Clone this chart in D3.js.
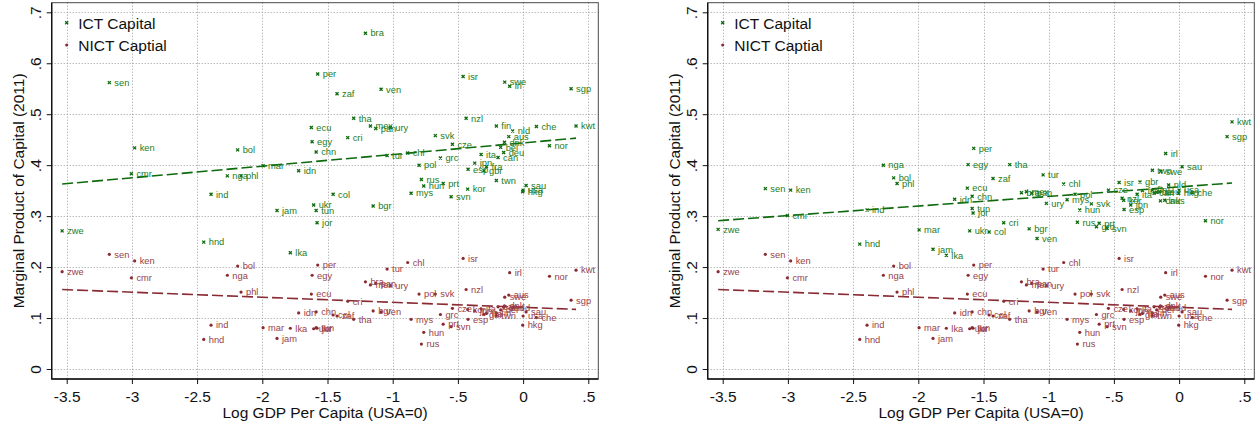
<!DOCTYPE html>
<html>
<head>
<meta charset="utf-8">
<script src="https://cdn.jsdelivr.net/npm/d3@7"></script>
<style>
  html, body { margin: 0; padding: 0; background: #fff; }
  svg { display: block; font-family: "Liberation Sans", Arial, Helvetica, sans-serif; }
</style>
</head>
<body>
<svg id="chart" width="1260" height="428"></svg>
<script>
// Country codes and log GDP per capita relative to the USA
const countryCodes = ["zwe","sen","ken","cmr","hnd","ind","nga","bol","phl","mar","jam","lka","idn","ukr","tun","jor","ecu","egy","chn","per","col","zaf","cri","tha","bra","mex","pan","bgr","ven","ury","tur","chl","mys","pol","rus","hun","svk","grc","prt","svn","cze","isr","nzl","kor","esp","jpn","ita","gbr","fra","twn","fin","can","bel","deu","dnk","swe","aus","irl","nld","usa","hkg","sau","che","nor","sgp","kwt"];
const logGdpPc = [-3.535,-3.173,-2.979,-3.004,-2.449,-2.393,-2.268,-2.189,-2.163,-1.994,-1.887,-1.785,-1.721,-1.606,-1.587,-1.580,-1.624,-1.618,-1.587,-1.575,-1.457,-1.427,-1.345,-1.299,-1.209,-1.171,-1.130,-1.150,-1.089,-1.018,-1.043,-0.885,-0.859,-0.798,-0.780,-0.762,-0.673,-0.634,-0.613,-0.552,-0.542,-0.460,-0.437,-0.425,-0.422,-0.371,-0.322,-0.300,-0.281,-0.205,-0.205,-0.192,-0.172,-0.149,-0.143,-0.141,-0.110,-0.103,-0.080,0.000,-0.003,0.023,0.102,0.202,0.368,0.406];

// Marginal product of ICT capital, first specification
const ictMpkLeft = [0.271,0.562,0.434,0.383,0.249,0.343,0.379,0.430,0.379,0.399,0.311,0.228,0.389,0.322,0.311,0.287,0.474,0.446,0.426,0.579,0.343,0.540,0.454,0.492,0.659,0.477,0.472,0.320,0.549,0.474,0.419,0.424,0.345,0.400,0.372,0.359,0.458,0.414,0.364,0.338,0.441,0.574,0.492,0.353,0.392,0.404,0.421,0.389,0.397,0.370,0.477,0.415,0.435,0.425,0.445,0.563,0.456,0.555,0.467,0.351,0.348,0.360,0.476,0.438,0.550,0.477];

// Marginal product of ICT capital, second specification
const ictMpkRight = [0.274,0.354,0.351,0.301,0.245,0.312,0.400,0.375,0.364,0.273,0.235,0.223,0.333,0.271,0.315,0.306,0.355,0.401,0.339,0.433,0.269,0.374,0.287,0.401,0.346,0.348,0.345,0.275,0.256,0.325,0.381,0.363,0.332,0.343,0.288,0.312,0.324,0.279,0.286,0.276,0.351,0.366,0.335,0.331,0.313,0.322,0.343,0.367,0.350,0.390,0.351,0.345,0.347,0.348,0.330,0.388,0.331,0.423,0.361,0.351,0.345,0.397,0.346,0.291,0.456,0.485];

// Marginal product of non-ICT capital (same in both panels)
const nictMpk = [0.191,0.225,0.212,0.179,0.058,0.086,0.184,0.202,0.151,0.081,0.060,0.080,0.110,0.079,0.081,0.080,0.147,0.184,0.112,0.204,0.106,0.104,0.133,0.0975,0.171,0.165,0.168,0.114,0.112,0.163,0.196,0.209,0.0975,0.147,0.049,0.072,0.147,0.107,0.088,0.083,0.119,0.217,0.156,0.117,0.0975,0.114,0.118,0.107,0.109,0.105,0.110,0.122,0.116,0.121,0.124,0.141,0.145,0.189,0.120,0.104,0.086,0.112,0.101,0.182,0.135,0.194];

// Linear fit end points [log GDP, MPK]
const ictFitLeft = [[-3.535, 0.363], [0.406, 0.453]];
const ictFitRight = [[-3.535, 0.291], [0.406, 0.365]];
const nictFit = [[-3.535, 0.156], [0.406, 0.117]];

const xTicks = [-3.5, -3, -2.5, -2, -1.5, -1, -0.5, 0, 0.5];
const xTickLabels = ["-3.5", "-3", "-2.5", "-2", "-1.5", "-1", "-.5", "0", ".5"];
const yTicks = [0, 0.1, 0.2, 0.3, 0.4, 0.5, 0.6, 0.7];
const yTickLabels = ["0", ".1", ".2", ".3", ".4", ".5", ".6", ".7"];

const seriesNames = ["ICT Capital", "NICT Captial"];
const xTitle = "Log GDP Per Capita (USA=0)";
const yTitle = "Marginal Product of Capital (2011)";

const GREEN = "#0d6a0d";
const GREEN_TEXT = "#1c7c1c";
const RED = "#8a2b33";
const RED_TEXT = "#984149";

const svg = d3.select("#chart");

// plot region frame and scale anchors
const frame = { left: 51.7, right: 598.3, top: 2.7, bottom: 379 };
const x = d3.scaleLinear().domain([-3.5, 0.5]).range([66.7, 588.3]);
const y = d3.scaleLinear().domain([0, 0.7]).range([369, 12.3]);

function crossPath(cx, cy, s) {
  return `M${cx - s},${cy - s}L${cx + s},${cy + s}M${cx - s},${cy + s}L${cx + s},${cy - s}`;
}

function drawPanel(offsetX, ictValues, ictFit) {
  const g = svg.append("g").attr("transform", `translate(${offsetX},0)`);

  // dotted grid
  const grid = g.append("g").attr("stroke", "#9c9c9c").attr("stroke-width", 1)
    .attr("stroke-dasharray", "1,2");
  grid.selectAll("line.h").data(yTicks).join("line")
    .attr("x1", frame.left).attr("x2", frame.right)
    .attr("y1", d => Math.round(y(d)) + 0.5).attr("y2", d => Math.round(y(d)) + 0.5);
  grid.selectAll("line.v").data(xTicks).join("line")
    .attr("y1", frame.top).attr("y2", frame.bottom)
    .attr("x1", d => Math.round(x(d)) + 0.5).attr("x2", d => Math.round(x(d)) + 0.5);

  // outer frame
  g.append("rect")
    .attr("x", frame.left).attr("y", frame.top)
    .attr("width", frame.right - frame.left).attr("height", frame.bottom - frame.top)
    .attr("fill", "none").attr("stroke", "#4a4a4a").attr("stroke-width", 1);

  // x axis
  const xAxis = d3.axisBottom(x).tickValues(xTicks)
    .tickFormat((d, i) => xTickLabels[i]).tickSize(5).tickSizeOuter(0).tickPadding(6.5);
  const gx = g.append("g").attr("transform", `translate(0,${frame.bottom})`).call(xAxis);
  gx.select(".domain").remove();
  gx.selectAll(".tick line").attr("stroke", "#111").attr("stroke-width", 1);
  gx.selectAll(".tick text").attr("font-size", 15.5).attr("fill", "#111")
    .attr("font-family", "Liberation Sans, Arial, sans-serif");

  // y axis with rotated labels
  const yAxis = d3.axisLeft(y).tickValues(yTicks)
    .tickFormat((d, i) => yTickLabels[i]).tickSize(5).tickSizeOuter(0);
  const gy = g.append("g").attr("transform", `translate(${frame.left},0)`).call(yAxis);
  gy.select(".domain").remove();
  gy.selectAll(".tick line").attr("stroke", "#111").attr("stroke-width", 1);
  gy.selectAll(".tick text")
    .attr("x", 0).attr("y", -11.2).attr("dy", 0)
    .attr("transform", "rotate(-90)")
    .attr("text-anchor", "middle")
    .attr("font-size", 15.5).attr("fill", "#111")
    .attr("font-family", "Liberation Sans, Arial, sans-serif");

  // axis lines
  g.append("line").attr("x1", frame.left - 0.5).attr("x2", frame.right)
    .attr("y1", frame.bottom).attr("y2", frame.bottom).attr("stroke", "#111").attr("stroke-width", 1.4);
  g.append("line").attr("x1", frame.left).attr("x2", frame.left)
    .attr("y1", frame.top).attr("y2", frame.bottom).attr("stroke", "#111").attr("stroke-width", 1.4);

  // axis titles
  g.append("text").attr("x", (frame.left + frame.right) / 2).attr("y", 418.3)
    .attr("text-anchor", "middle").attr("font-size", 15.5).attr("fill", "#111").text(xTitle);
  g.append("text").attr("transform", `translate(23.5,${(frame.top + frame.bottom) / 2}) rotate(-90)`)
    .attr("text-anchor", "middle").attr("font-size", 15.5).attr("fill", "#111").text(yTitle);

  const idx = d3.range(countryCodes.length);

  // fitted lines
  const line = d3.line().x(d => x(d[0])).y(d => y(d[1]));
  g.append("path").attr("d", line(nictFit)).attr("fill", "none")
    .attr("stroke", RED).attr("stroke-width", 1.6).attr("stroke-dasharray", "11,4");
  g.append("path").attr("d", line(ictFit)).attr("fill", "none")
    .attr("stroke", GREEN).attr("stroke-width", 1.6).attr("stroke-dasharray", "11,4");

  // NICT points and labels
  g.append("g").selectAll("circle").data(idx).join("circle")
    .attr("cx", i => x(logGdpPc[i])).attr("cy", i => y(nictMpk[i])).attr("r", 1.6)
    .attr("fill", RED);
  g.append("g").selectAll("text").data(idx).join("text")
    .attr("x", i => x(logGdpPc[i]) + 5).attr("y", i => y(nictMpk[i]) + 3.3)
    .attr("font-size", 9.3).attr("fill", RED_TEXT).text(i => countryCodes[i]);

  // ICT points and labels
  g.append("g").selectAll("path").data(idx).join("path")
    .attr("d", i => crossPath(x(logGdpPc[i]), y(ictValues[i]), 1.5))
    .attr("stroke", GREEN).attr("stroke-width", 1.3).attr("fill", "none");
  g.append("g").selectAll("text").data(idx).join("text")
    .attr("x", i => x(logGdpPc[i]) + 5).attr("y", i => y(ictValues[i]) + 3.3)
    .attr("font-size", 9.3).attr("fill", GREEN_TEXT).text(i => countryCodes[i]);

  // legend
  const lg = g.append("g");
  lg.append("path").attr("d", crossPath(66.7, 22.7, 1.5))
    .attr("stroke", GREEN).attr("stroke-width", 1.3);
  lg.append("circle").attr("cx", 66.7).attr("cy", 45).attr("r", 1.6).attr("fill", RED);
  lg.append("text").attr("x", 78.3).attr("y", 29.3).attr("font-size", 15.5).attr("fill", "#111").text(seriesNames[0]);
  lg.append("text").attr("x", 78.3).attr("y", 50.8).attr("font-size", 15.5).attr("fill", "#111").text(seriesNames[1]);
}

drawPanel(0, ictMpkLeft, ictFitLeft);
drawPanel(656, ictMpkRight, ictFitRight);
</script>
</body>
</html>
